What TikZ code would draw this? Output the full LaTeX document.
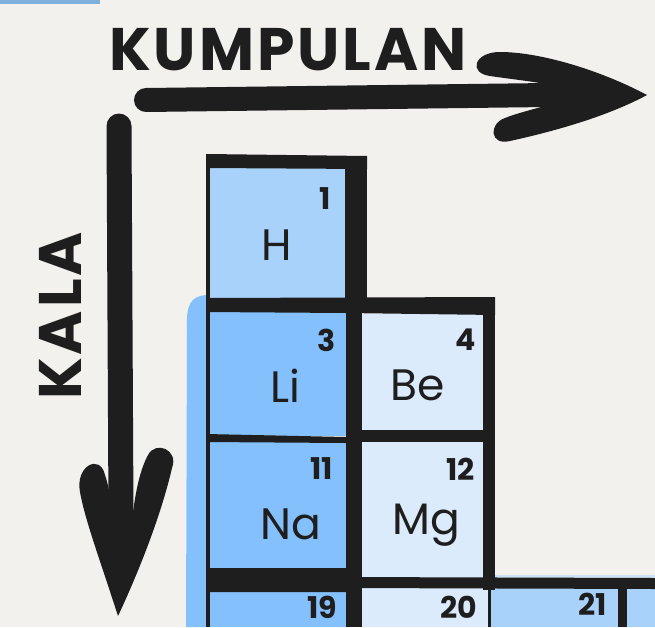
\documentclass[tikz,border=0pt]{standalone}
\usepackage{fontspec}
\newfontfamily\handfont{Poppins}
\newfontfamily\labfont{Poppins}[LetterSpace=5]
\definecolor{paper}{HTML}{F3F1EE}
\definecolor{ink}{HTML}{1E1E1E}
\definecolor{blueA}{HTML}{A9D2FB}
\definecolor{blueB}{HTML}{84C0FB}
\definecolor{blueC}{HTML}{DCEBFC}
\definecolor{strip}{HTML}{7DB0DC}
\tikzset{
  border/.style={fill=ink},
  sym/.style={font=\handfont\fontsize{44}{44}\selectfont, text=ink, inner sep=0pt},
  num/.style={font=\handfont\bfseries\fontsize{30}{30}\selectfont, text=ink, inner sep=0pt, anchor=east},
  biglabel/.style={font=\labfont\bfseries\fontsize{60}{60}\selectfont, text=ink, inner sep=0pt}
}
\begin{document}
\begin{tikzpicture}[x=1pt,y=-1pt]
\useasboundingbox (0,0) rectangle (655,627);
\fill[paper] (0,0) rectangle (655,627);
\fill[strip] (0,0) rectangle (100,4);
% shadow
\fill[blueB] (207,295) .. controls (190,296) and (186,305) .. (187,330) -- (186,627) -- (207,627) -- cycle;
\fill[blueA, opacity=0.5] (495,575) rectangle (655,580);
% cell fills
\fill[blueA] (209,167) rectangle (346,299);
\fill[blueB] (209,311) rectangle (347,436);
\fill[blueB] (209,442) rectangle (347,569);
\fill[blueB] (209,590) rectangle (347,627);
\fill[blueC] (361,314) rectangle (484,431);
\fill[blueC] (361,441) rectangle (484,578);
\fill[blueC] (361,587) rectangle (489,627);
\fill[blueA] (490,587) rectangle (619,627);
\fill[blueA] (626,587) rectangle (655,627);
% borders
\fill[border] (207,154) -- (367,156) -- (367,169) -- (207,168) -- cycle;
\fill[border] (206,154) rectangle (210,627);
\fill[border] (345,156) rectangle (367,312);
\fill[border] (346,300) rectangle (362,627);
\fill[border] (206,298) -- (495,297) -- (495,315) -- (346,313) -- (206,312) -- cycle;
\fill[border] (483,297) rectangle (495,590);
\fill[border] (206,434) -- (346,437) -- (346,443) -- (206,442) -- cycle;
\fill[border] (362,430) rectangle (495,442);
\fill[border] (206,568) -- (346,568) -- (346,577) -- (655,578) -- (655,589) -- (346,588) -- (346,592) -- (206,592) -- cycle;
\fill[border] (488,588) rectangle (491,627);
\fill[border] (618,588) rectangle (627,627);
% element texts
\node[sym] (H) at (277,245) {H};
\node[num] (n1) at (331,199) {1};
\node[sym] (Li) at (285,386) {Li};
\node[num] (n3) at (336,340) {3};
\node[sym] (Be) at (418,385) {Be};
\node[num] (n4) at (476,340) {4};
\node[sym] (Na) at (291,524) {Na};
\node[num] (n11) at (333,469) {11};
\node[sym] (Mg) at (426,525) {Mg};
\node[num] (n12) at (475,469) {12};
\node[num] (n19) at (337,607) {19};
\node[num] (n20) at (477,607) {20};
\node[num] (n21) at (607,604) {21};
% labels
\node[biglabel] (kumpulan) at (288,50) {KUMPULAN};
\node[biglabel, rotate=90] (kala) at (60,316) {KALA};
% horizontal arrow
\draw[ink, line width=24pt, line cap=round] (146,100) -- (548,95);
\fill[ink] (647,95) .. controls (600,70) and (540,52) .. (500,52)
  .. controls (474,52) and (468,73) .. (490,76)
  .. controls (510,79) and (530,81) .. (545,84) -- (545,106)
  .. controls (530,110) and (515,114) .. (505,118)
  .. controls (488,124) and (490,146) .. (510,141)
  .. controls (560,130) and (610,115) .. (647,95) -- cycle;
% vertical arrow
\draw[ink, line width=25pt, line cap=round] (119,126) -- (121,515);
\fill[ink] (118,616) .. controls (100,560) and (85,520) .. (80,492)
  .. controls (75,466) and (100,453) .. (105,475)
  .. controls (110,490) and (112,505) .. (109,515) -- (133,512)
  .. controls (136,490) and (140,470) .. (148,455)
  .. controls (156,440) and (179,450) .. (172,468)
  .. controls (160,520) and (135,580) .. (118,616) -- cycle;
\end{tikzpicture}
\end{document}
